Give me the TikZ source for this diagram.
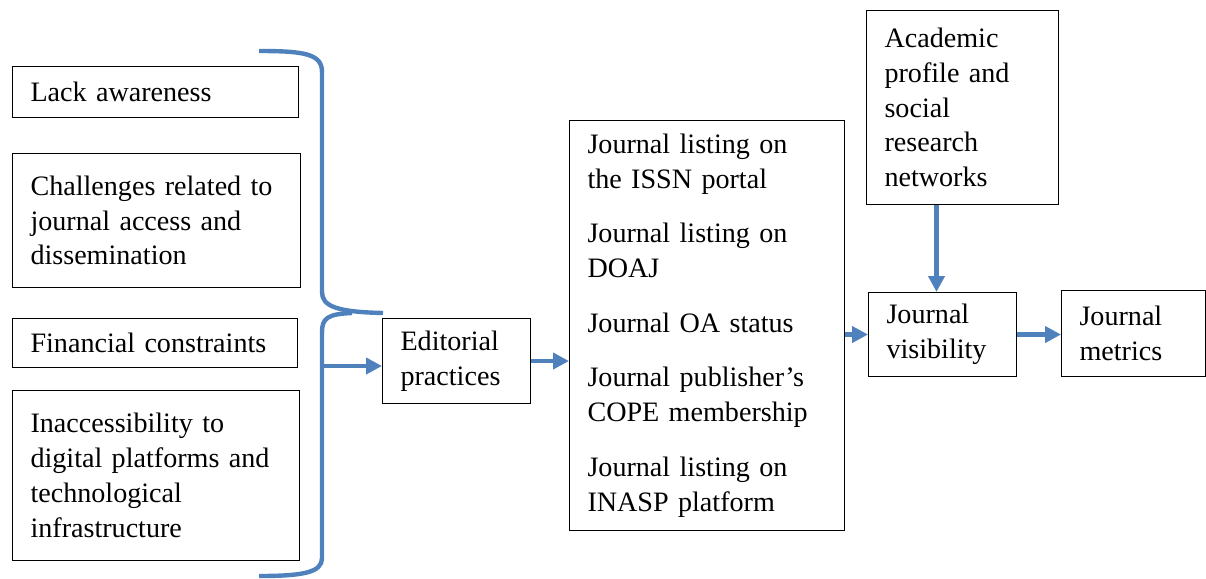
\documentclass[tikz,border=0pt]{standalone}
\usepackage{fontspec}
\setmainfont{Liberation Serif}
\usetikzlibrary{arrows.meta, positioning}
\definecolor{linkblue}{HTML}{4F81BD}
\tikzset{
  >={Triangle[length=9pt, width=9pt]}, % filled arrow heads
  box/.style={draw, line width=0.6pt, anchor=north west, align=left,
    inner xsep=0.36cm, font=\fontsize{16}{19.8}\selectfont}, % every text box
  link/.style={->, linkblue, line width=2.5pt}, % blue connectors
  brace/.style={linkblue, line width=2.5pt}, % the big bracket
}

\begin{document}
\begin{tikzpicture}[x=0.02cm, y=-0.02cm]
  \useasboundingbox (0,0) rectangle (1206,578);

  % barriers on the left
  \node[box, text width=5.0cm, minimum height=1.02cm] (lack) at (12,66) {Lack awareness};
  \node[box, text width=5.04cm, minimum height=2.68cm] (chal) at (12,153)
    {Challenges related to\\journal access and\\dissemination};
  \node[box, text width=4.98cm, minimum height=0.98cm] (fin) at (12,318) {Financial constraints};
  \node[box, text width=5.02cm, minimum height=3.4cm] (inacc) at (12,390)
    {Inaccessibility to\\digital platforms and\\technological\\infrastructure};

  \node[box, text width=2.24cm, minimum height=1.7cm] (edit) at (382,318) {Editorial\\practices};

  \node[box, text width=4.78cm, minimum height=8.2cm] (list) at (569,120)
    {Journal listing on\\the ISSN portal\\[11.3pt]
     Journal listing on\\DOAJ\\[11.3pt]
     Journal OA status\\[11.3pt]
     Journal publisher's\\COPE membership\\[11.3pt]
     Journal listing on\\INASP platform};

  \node[box, text width=3.12cm, minimum height=3.88cm] (acad) at (866,10)
    {Academic\\profile and\\social\\research\\networks};
  \node[box, text width=2.24cm, minimum height=1.68cm] (vis) at (868,292) {Journal\\visibility};
  \node[box, text width=2.16cm, minimum height=1.72cm] (metr) at (1061,290) {Journal\\metrics};

  % bracket
  \draw[brace] (259,51) .. controls (305,51) and (322,54) .. (322,72) -- (322,292)
    .. controls (322,306) and (336,312) .. (383,313);
  \draw[brace] (352,313) .. controls (328,314) and (322,318) .. (322,332) -- (322,558)
    .. controls (322,572) and (305,576) .. (259,576);
  \coordinate (tip) at (322,366);

  \draw[link] (tip) -- (tip -| edit.west);
  \draw[link] (edit.east) -- (edit.east -| list.west);
  \draw[link] (list.east |- vis.west) -- (vis.west);
  \draw[link] (vis.east) -- (vis.east -| metr.west);
  \draw[link] ([xshift=-0.12cm]vis.north |- acad.south) -- ([xshift=-0.12cm]vis.north);

\end{tikzpicture}
\end{document}
